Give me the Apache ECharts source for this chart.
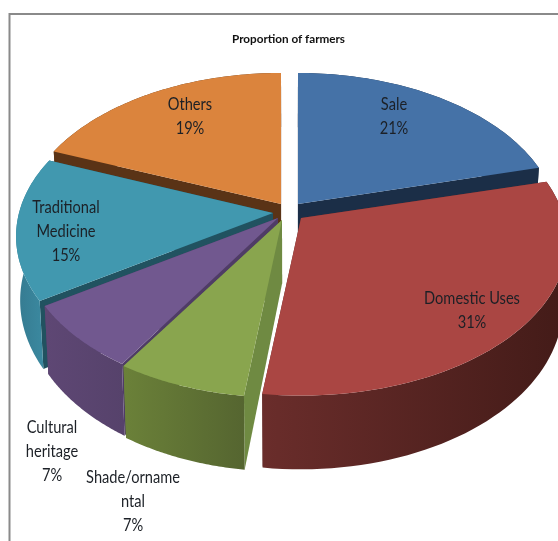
<!DOCTYPE html>
<html>
<head>
<meta charset="utf-8">
<style>
  html, body { margin: 0; padding: 0; background: #fff; overflow: hidden; }
  #main { width: 558px; height: 541px; }
</style>
<script src="https://cdn.jsdelivr.net/npm/echarts@6/dist/echarts.min.js"></script>
</head>
<body>
<div id="main"></div>
<script>
var categories = ['Sale', 'Domestic Uses', 'Shade/orname\nntal', 'Cultural\nheritage', 'Traditional\nMedicine', 'Others'];
var shares = [21, 31, 7, 7, 15, 19];

// look of the slices
var topColors = ['#4572a7', '#aa4643', '#89a54e', '#71588f', '#4198af', '#db843d'];
var cutColors = ['#1b2e47', '#5b2a28', '#6f8a42', '#4f3c66', '#215260', '#5a3316'];
var rimColors = [
  ['#1b2e47', '#1b2e47'],
  ['#6a2d2b', '#431b18'],
  ['#6b8139', '#556530'],
  ['#5e4774', '#56426b'],
  ['#357a90', '#3d8ea5'],
  ['#5a3316', '#5a3316']
];
// exploded position of each slice's tip, and which slice is painted first
var tips = [[298, 204], [301, 218], [282, 220], [278, 218], [273, 213], [281, 204]];
var widths = [258, 263, 258, 254, 254, 258];
var paintOrder = [1, 5, 4, 3, 2, 0];
var labelSpots = [[394, 117], [472, 311], [133, 502], [52, 452], [66, 232], [190, 117]];

var tall = 150.8;
var perspective = 0.151;

var total = 0;
shares.forEach(function (v) { total += v; });

function diskPoint(i, angle, r) {
  var c = Math.cos(angle) * r;
  var s = 1 / (1 + perspective * c);
  return [
    tips[i][0] + widths[i] * Math.sin(angle) * r * s,
    tips[i][1] - tall * c * s
  ];
}

// where a point on the top face ends up on the bottom face
function dropPoint(p) {
  return [p[0] + (290 - p[0]) * 0.015, p[1] + 62 + 0.06 * (p[1] - 200)];
}

function renderSlice(params, api) {
  var i = params.dataIndex;
  var before = 0;
  for (var k = 0; k < i; k++) before += shares[k];
  var from = before / total * Math.PI * 2;
  var to = (before + api.value(0)) / total * Math.PI * 2;

  var rim = [];
  for (var n = 0; n <= 60; n++) {
    rim.push(diskPoint(i, from + (to - from) * n / 60, 1));
  }
  var tip = tips[i];
  var first = rim[0];
  var last = rim[rim.length - 1];
  var base = paintOrder[i] * 10;

  function face(points, fill, z2) {
    return {
      type: 'polygon',
      shape: { points: points },
      style: { fill: fill },
      z2: base + z2
    };
  }

  return {
    type: 'group',
    children: [
      face([tip, first, dropPoint(first), dropPoint(tip)], cutColors[i], 1),
      face([tip, last, dropPoint(last), dropPoint(tip)], cutColors[i], 1),
      face(rim.concat(rim.map(dropPoint).reverse()), new echarts.graphic.LinearGradient(0, 0, 1, 0, [
        { offset: 0, color: rimColors[i][0] },
        { offset: 1, color: rimColors[i][1] }
      ]), 2),
      face([tip].concat(rim), topColors[i], 3),
      {
        type: 'text',
        x: labelSpots[i][0],
        y: labelSpots[i][1],
        scaleX: 0.86,
        style: {
          text: categories[i] + '\n' + api.value(0) + '%',
          fill: '#1c2026',
          font: '17px Lato',
          lineHeight: 24,
          align: 'center',
          verticalAlign: 'middle'
        },
        z2: 200
      }
    ]
  };
}

var chart = echarts.init(document.getElementById('main'), null, { width: 558, height: 541 });

var option = {
  animation: false,
  backgroundColor: '#fff',
  title: {
    text: 'Proportion of farmers',
    left: 227,
    top: 28,
    textStyle: { fontFamily: 'Lato', fontSize: 11.7, fontWeight: 'bold', color: '#111' }
  },
  graphic: [
    {
      type: 'polyline',
      shape: { points: [[9.5, 541], [9.5, 14], [558, 14]] },
      style: { stroke: '#8a8a8a', lineWidth: 2, fill: 'none' }
    }
  ],
  series: [
    {
      type: 'custom',
      coordinateSystem: 'none',
      renderItem: renderSlice,
      data: shares.map(function (v, i) { return { name: categories[i], value: [v] }; })
    }
  ]
};

chart.setOption(option);
</script>
</body>
</html>
